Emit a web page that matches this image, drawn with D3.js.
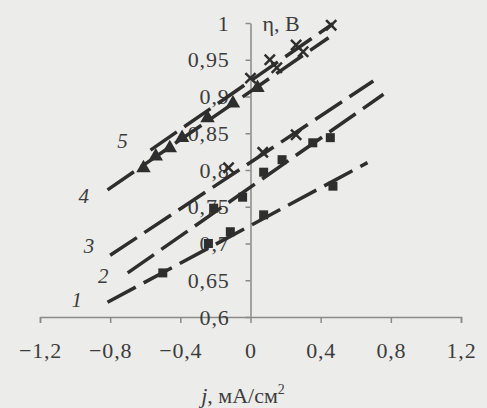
<!DOCTYPE html>
<html>
<head>
<meta charset="utf-8">
<script src="https://cdn.jsdelivr.net/npm/d3@7"></script>
<style>
  body { margin: 0; background: #ececea; }
  svg { display: block; }
  text { font-family: "Liberation Serif", "Times New Roman", serif; fill: #3c3c3c; }
</style>
</head>
<body>
<div id="chart"></div>
<script>
// tick values
const xTicks = [-1.2, -0.8, -0.4, 0, 0.4, 0.8, 1.2];
const yTicks = [0.6, 0.65, 0.7, 0.75, 0.8, 0.85, 0.9, 0.95, 1];

// measured points, [j, eta]
const points1 = [[-0.50, 0.660], [-0.24, 0.700], [-0.115, 0.716], [0.075, 0.739], [0.47, 0.778]];
const points2 = [[-0.21, 0.748], [-0.045, 0.763], [0.075, 0.797], [0.18, 0.814], [0.355, 0.837], [0.455, 0.844]];
const points3 = [[-0.125, 0.803], [0.07, 0.824], [0.26, 0.848]];
const points4 = [[0.0, 0.925], [0.11, 0.950], [0.15, 0.939], [0.26, 0.970], [0.30, 0.961], [0.46, 0.997]];
const points5 = [[-0.61, 0.800], [-0.54, 0.816], [-0.46, 0.827], [-0.39, 0.841], [-0.245, 0.868], [-0.10, 0.888], [0.04, 0.909]];

// fitted lines, [start, end]
const fit1 = [[-0.815, 0.620], [0.667, 0.810]];
const fit2 = [[-0.70, 0.660], [0.758, 0.903]];
const fit3 = [[-0.80, 0.684], [0.70, 0.921]];
const fit4 = [[-0.815, 0.773], [0.445, 0.980]];
const fit5 = [[-0.57, 0.827], [0.47, 0.999]];

const curveNames = ["1", "2", "3", "4", "5"];

let x = d3.scaleLinear().domain([-1.2, 1.2]).range([40, 461]);
let y = d3.scaleLinear().domain([0.6, 1]).range([317, 23]);

let svg = d3.select("#chart").append("svg")
    .attr("width", 487)
    .attr("height", 408);

let fmt = d => (d < 0 ? "\u2212" : "") + String(Math.abs(+d.toFixed(2))).replace(".", ",");

// X axis
let gx = svg.append("g")
    .attr("transform", "translate(0," + y(0.6) + ")")
    .call(d3.axisBottom(x).tickValues(xTicks).tickSize(6).tickPadding(19).tickFormat(fmt));
gx.select(".domain").attr("stroke", "#8a8a8a").attr("stroke-width", 1.5);
gx.selectAll(".tick line").attr("stroke", "#8a8a8a").attr("stroke-width", 1.5);
gx.selectAll("text").style("font-size", "22px").style("letter-spacing", "0.8px").attr("fill", "#3c3c3c");

// Y axis sits at j = 0
let gy = svg.append("g")
    .attr("transform", "translate(" + x(0) + ",0)")
    .call(d3.axisLeft(y).tickValues(yTicks).tickSize(5).tickPadding(16).tickSizeOuter(0).tickFormat(fmt));
gy.select(".domain").attr("stroke", "#8a8a8a").attr("stroke-width", 1.5);
gy.selectAll(".tick line").attr("stroke", "#8a8a8a").attr("stroke-width", 1.5);
gy.selectAll("text").style("font-size", "22px").style("letter-spacing", "0.8px").attr("fill", "#3c3c3c");

// dashed fit lines
let line = d3.line().x(d => x(d[0])).y(d => y(d[1]));
[fit1, fit2, fit3, fit4, fit5].forEach(f => {
  svg.append("path")
      .datum(f)
      .attr("fill", "none")
      .attr("stroke", "#2e2e2e")
      .attr("stroke-width", 3.5)
      .attr("stroke-dasharray", "32,9")
      .attr("d", line);
});

// markers
svg.append("g").selectAll("rect").data(points1).join("rect")
    .attr("x", d => x(d[0]) - 4.5).attr("y", d => y(d[1]) - 4.5)
    .attr("width", 9).attr("height", 9).attr("fill", "#2e2e2e");
svg.append("g").selectAll("rect").data(points2).join("rect")
    .attr("x", d => x(d[0]) - 4.5).attr("y", d => y(d[1]) - 4.5)
    .attr("width", 9).attr("height", 9).attr("fill", "#2e2e2e");
let cross = d3.symbol().type(d3.symbolX).size(70);
[points3, points4].forEach(p => {
  svg.append("g").selectAll("path").data(p).join("path")
      .attr("transform", d => "translate(" + x(d[0]) + "," + y(d[1]) + ")")
      .attr("d", cross)
      .attr("fill", "none").attr("stroke", "#2e2e2e").attr("stroke-width", 2.5);
});
svg.append("g").selectAll("path").data(points5).join("path")
    .attr("transform", d => "translate(" + x(d[0]) + "," + (y(d[1]) - 2) + ")")
    .attr("d", d3.symbol().type(d3.symbolTriangle).size(90))
    .attr("fill", "#2e2e2e");

// curve numbers
const labelPos = [[-0.99, 0.624], [-0.84, 0.656], [-0.92, 0.697], [-0.95, 0.765], [-0.73, 0.840]];
svg.append("g").selectAll("text").data(curveNames).join("text")
    .attr("x", (d, i) => x(labelPos[i][0]))
    .attr("y", (d, i) => y(labelPos[i][1]))
    .attr("text-anchor", "middle")
    .attr("dy", "0.35em")
    .style("font-size", "21px")
    .style("font-style", "italic")
    .text(d => d);

// axis titles
svg.append("text")
    .attr("x", x(0) + 12).attr("y", y(1) + 8)
    .style("font-size", "22px")
    .text("\u03b7, В");

let xt = svg.append("text")
    .attr("x", 243).attr("y", 403)
    .attr("text-anchor", "middle")
    .style("font-size", "22px");
xt.append("tspan").style("font-style", "italic").text("j");
xt.append("tspan").text(", мА/см");
xt.append("tspan").attr("dy", "-9").style("font-size", "14px").text("2");
</script>
</body>
</html>
